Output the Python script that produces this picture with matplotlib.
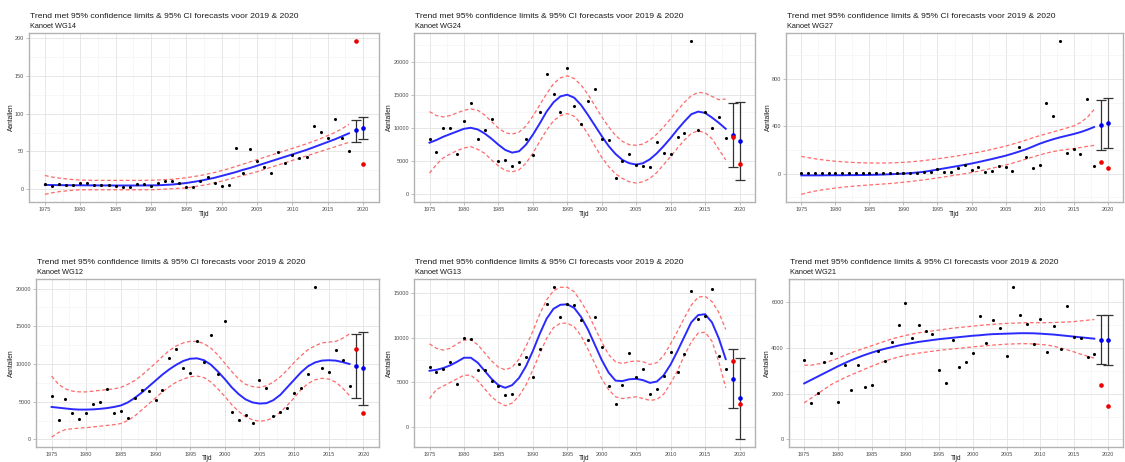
import matplotlib
matplotlib.use("Agg")
import matplotlib.pyplot as plt
import numpy as np

plt.rcParams['font.family'] = ['Liberation Sans', 'DejaVu Sans']

years = list(range(1975, 2019))
fc_years = [2019, 2020]
x_ticks = [1975, 1980, 1985, 1990, 1995, 2000, 2005, 2010, 2015, 2020]
title_text = "Trend met 95% confidence limits & 95% CI forecasts voor 2019 & 2020"

# ---------------- WG14 ----------------
wg14_obs = [6.3, 4.5, 6.7, 6, 5, 8, 8, 6, 6, 5, 3.5, 3, 3, 6.7, 6.7, 4.5, 7.6, 10.7, 10.7, 8,
            2.2, 2.7, 10.7, 16, 8, 3.6, 5.4, 54, 21, 53, 37, 29, 21, 49, 34, 45.6, 41, 43, 84, 76,
            67.6, 93.5, 68, 50]
wg14_fit = [5.5, 5.3, 5.2, 5.1, 5, 5, 4.9, 4.9, 4.8, 4.8, 4.7, 4.7, 4.7, 4.7, 4.8, 4.9, 5, 5.5, 6, 7,
            8, 9.5, 11, 13, 15, 17.5, 20, 22.5, 25.5, 28, 31, 34, 37, 40, 43, 46, 49, 52, 55.5, 59,
            62.5, 66, 70, 74]
wg14_hi = [18, 16, 14.5, 13.5, 12.5, 12, 11.7, 11.5, 11.5, 11.5, 11.5, 11.5, 11.5, 11.5, 11.5, 11.7, 12, 12.5, 13, 14,
           15, 16.5, 18, 20, 22, 24.5, 27, 30, 33, 36, 39, 42, 45, 48, 51, 54, 57, 60, 63.5, 67,
           71, 75, 80, 86]
wg14_lo = [-7, -5, -3.5, -2.5, -1.5, -1, -1, -1, -1, -1, -1, -1, -1, -1, -1, -1, -0.5, 0, 0.5, 1,
           1.5, 3, 4.5, 6, 8.5, 10.5, 13, 15.5, 18, 20.5, 23, 26, 29, 32, 35, 38, 41, 44, 47, 50,
           53, 56, 59, 62]
wg14_fc = [78, 81]
wg14_fc_lo = [62.6, 65.8]
wg14_fc_hi = [91.7, 95.7]
wg14_actual = [197, 33]

# ---------------- WG24 ----------------
wg24_obs = [8418, 6378, 9949, 9949, 6071, 11122, 13775, 8367, 9745, 11429, 5102, 5153, 4337, 4847, 8367,
            5969, 12398, 18163, 15204, 12500, 19082, 13367, 10561, 14082, 15918, 8418, 8163, 2398, 5102,
            6071, 4388, 4286, 4133, 7857, 6224, 6071, 8673, 9286, 23214, 9643, 12500, 10051, 11633, 8571]
wg24_fit = [7800, 8200, 8700, 9100, 9500, 9900, 10050, 9800, 9200, 8400, 7500, 6700, 6300, 6500, 7500,
            9000, 10700, 12500, 13900, 14800, 15050, 14600, 13500, 12000, 10400, 8800, 7300, 6100, 5200,
            4700, 4500, 4700, 5300, 6200, 7300, 8500, 9800, 11000, 12100, 12500, 12300, 11600, 10800, 9900]
wg24_hi = [12500, 11900, 11700, 11900, 12300, 12700, 12900, 12700, 12000, 11000, 10000, 9300, 9100, 9400, 10300,
           11800, 13500, 15200, 16700, 17600, 17900, 17500, 16500, 15100, 13400, 11700, 10200, 8900, 8000,
           7500, 7400, 7600, 8200, 9100, 10200, 11400, 12700, 13900, 14900, 15400, 15300, 14800, 14300, 14400]
wg24_lo = [3200, 4500, 5500, 6100, 6600, 7000, 7200, 6800, 6200, 5200, 4300, 3600, 3400, 3700, 4700,
           6200, 8000, 9700, 11100, 11900, 12200, 11800, 10700, 9100, 7300, 5600, 4200, 3100, 2400,
           1900, 1700, 1900, 2400, 3300, 4500, 5700, 7000, 8200, 9200, 9600, 9300, 8400, 6800, 5200]
wg24_fc = [9031, 8061]
wg24_fc_lo = [4184, 2092]
wg24_fc_hi = [13724, 13980]
wg24_actual = [8622, 4592]

# ---------------- WG27 ----------------
wg27_obs = [2, 1, 1, 2, 1, 2, 1, 1, 2, 1, 1, 1, 2, 3, 2, 1, 1, 4, 14, 14,
            40, 11, 11, 51, 71, 28, 57, 17, 26, 63, 57, 23, 222, 137, 46, 71, 598, 484, 1122, 174,
            205, 165, 632, 65]
wg27_fit = [-15, -15, -15, -15, -14, -14, -14, -13, -13, -12, -11, -10, -8, -6, -3, 0, 4, 9, 15, 24,
            34, 44, 54, 64, 74, 85, 97, 110, 123, 137, 151, 168, 186, 205, 228, 252, 272, 290, 306, 320,
            334, 350, 370, 393]
wg27_hi = [145, 135, 125, 117, 110, 104, 100, 96, 93, 91, 90, 89, 89, 90, 92, 95, 99, 104, 110, 117,
           125, 133, 141, 150, 160, 170, 180, 192, 205, 218, 232, 248, 265, 283, 302, 320, 336, 352, 368, 385,
           402, 430, 475, 540]
wg27_lo = [-175, -160, -148, -138, -130, -122, -115, -110, -105, -100, -96, -92, -88, -84, -79, -73, -67, -60, -53, -45,
           -37, -28, -19, -10, -1, 9, 20, 32, 45, 58, 72, 88, 105, 122, 140, 157, 173, 186, 196, 204,
           211, 220, 230, 238]
wg27_fc = [407, 424]
wg27_fc_lo = [199, 214]
wg27_fc_hi = [618, 638]
wg27_actual = [102, 46]

# ---------------- WG12 ----------------
wg12_obs = [5689, 2533, 5422, 3467, 2667, 3555, 4711, 4933, 6711, 3555, 3778, 2889, 5555, 6489, 6400,
            5200, 6489, 10800, 12000, 9466, 8800, 13066, 10222, 13911, 8711, 15689, 3600, 2578, 3200,
            2133, 7822, 6844, 3155, 3689, 4222, 6133, 6800, 8622, 20266, 9466, 8889, 11822, 10578, 7111]
wg12_fit = [4300, 4200, 4100, 4000, 3950, 3950, 3980, 4050, 4150, 4300, 4500, 4900, 5500, 6200, 7000,
            7800, 8600, 9300, 9900, 10400, 10700, 10750, 10500, 9900, 9000, 8000, 6900, 6000, 5300,
            4900, 4750, 4800, 5200, 5900, 6900, 7900, 8900, 9700, 10200, 10450, 10500, 10450, 10250, 10000]
wg12_hi = [8400, 7300, 6700, 6400, 6300, 6300, 6400, 6500, 6600, 6700, 6900, 7300, 7800, 8500, 9300,
           10100, 11000, 11800, 12400, 12800, 13000, 13000, 12700, 12100, 11200, 10100, 9000, 8000, 7300,
           7000, 6900, 7100, 7600, 8300, 9200, 10200, 11100, 11900, 12400, 12800, 12900, 13000, 13400, 14000]
wg12_lo = [300, 900, 1300, 1400, 1500, 1550, 1650, 1750, 1850, 1950, 2100, 2500, 3100, 3900, 4700,
           5500, 6300, 7000, 7600, 8000, 8300, 8400, 8200, 7600, 6700, 5700, 4600, 3700, 3000,
           2600, 2400, 2500, 2900, 3600, 4500, 5500, 6600, 7400, 7900, 8100, 8000, 7600, 6800, 5800]
wg12_fc = [9733, 9422]
wg12_fc_lo = [5555, 4622]
wg12_fc_hi = [14000, 14311]
wg12_actual = [12000, 3467]

# ---------------- WG13 ----------------
wg13_obs = [6753, 6119, 6529, 7275, 4850, 9925, 9850, 6417, 6343, 5149, 4552, 3545, 3694, 7014, 7798,
            5634, 8768, 13730, 15670, 12312, 13767, 13655, 11977, 9738, 12275, 8917, 4626, 2574, 4738,
            8245, 5559, 6529, 3694, 4253, 5746, 8395, 6119, 8171, 15185, 12051, 12424, 15446, 7947, 6455]
wg13_fit = [6300, 6400, 6600, 6900, 7300, 7750, 7750, 7200, 6300, 5400, 4700, 4400, 4700, 5500, 6800,
            8500, 10400, 12100, 13200, 13650, 13700, 13300, 12300, 10900, 9200, 7500, 6100, 5200, 5150,
            5350, 5400, 5250, 4950, 5100, 5800, 7000, 8500, 10100, 11700, 12500, 12600, 11700, 9900, 7600]
wg13_hi = [9300, 8800, 8600, 8800, 9300, 9700, 9750, 9200, 8300, 7400, 6700, 6400, 6700, 7600, 9000,
           10700, 12600, 14200, 15200, 15600, 15600, 15100, 14000, 12700, 11100, 9500, 8100, 7300, 7100,
           7300, 7400, 7300, 7000, 7200, 8000, 9300, 10700, 12200, 13600, 14500, 14600, 14000, 12800, 10900]
wg13_lo = [3200, 4200, 4600, 5000, 5400, 5800, 5800, 5200, 4300, 3400, 2800, 2400, 2700, 3500, 4700,
           6400, 8200, 9900, 11100, 11600, 11600, 11200, 10200, 8700, 7100, 5400, 4200, 3400, 3200,
           3300, 3400, 3200, 3000, 3100, 3700, 4900, 6300, 8000, 9500, 10500, 10600, 9600, 7300, 4400]
wg13_fc = [5410, 3209]
wg13_fc_lo = [2127, -1343]
wg13_fc_hi = [8731, 7760]
wg13_actual = [7387, 2612]

# ---------------- WG21 ----------------
wg21_obs = [3492, 1584, 2010, 3403, 3785, 1658, 3257, 2171, 3242, 2303, 2391, 3858, 3447, 4269, 4988,
            5985, 4460, 4988, 4738, 4636, 3051, 2464, 4357, 3154, 3374, 3770, 5413, 4225, 5208,
            4900, 3668, 6690, 5457, 5046, 4181, 5281, 3814, 4944, 3976, 5824, 4489, 4430, 3623, 3726]
wg21_fit = [2450, 2600, 2750, 2900, 3050, 3200, 3340, 3470, 3590, 3700, 3800, 3890, 3970, 4040, 4110,
            4170, 4220, 4270, 4310, 4350, 4390, 4420, 4450, 4480, 4510, 4540, 4560, 4590, 4610,
            4620, 4630, 4640, 4650, 4650, 4645, 4630, 4610, 4590, 4560, 4530, 4500, 4470, 4440, 4410]
wg21_hi = [3250, 3250, 3300, 3350, 3450, 3550, 3680, 3800, 3900, 4000, 4100, 4200, 4300, 4400, 4480,
           4550, 4610, 4670, 4710, 4750, 4790, 4830, 4870, 4900, 4930, 4960, 4990, 5020, 5040,
           5060, 5080, 5090, 5100, 5110, 5110, 5110, 5110, 5120, 5130, 5140, 5160, 5190, 5220, 5250]
wg21_lo = [1600, 1800, 2000, 2200, 2400, 2550, 2700, 2830, 2950, 3080, 3200, 3320, 3430, 3530, 3610,
           3680, 3730, 3780, 3820, 3860, 3900, 3930, 3960, 3990, 4020, 4050, 4080, 4100, 4130,
           4150, 4170, 4180, 4190, 4190, 4180, 4160, 4130, 4080, 4000, 3920, 3830, 3730, 3640, 3560]
wg21_fc = [4370, 4350]
wg21_fc_lo = [3315, 3242]
wg21_fc_hi = [5457, 5457]
wg21_actual = [2362, 1467]

panels = [
    ("Kanoet WG14", wg14_obs, wg14_fit, wg14_lo, wg14_hi, wg14_fc, wg14_fc_lo, wg14_fc_hi, wg14_actual,
     [0, 50, 100, 150, 200]),
    ("Kanoet WG24", wg24_obs, wg24_fit, wg24_lo, wg24_hi, wg24_fc, wg24_fc_lo, wg24_fc_hi, wg24_actual,
     [0, 5000, 10000, 15000, 20000]),
    ("Kanoet WG27", wg27_obs, wg27_fit, wg27_lo, wg27_hi, wg27_fc, wg27_fc_lo, wg27_fc_hi, wg27_actual,
     [0, 400, 800]),
    ("Kanoet WG12", wg12_obs, wg12_fit, wg12_lo, wg12_hi, wg12_fc, wg12_fc_lo, wg12_fc_hi, wg12_actual,
     [0, 5000, 10000, 15000, 20000]),
    ("Kanoet WG13", wg13_obs, wg13_fit, wg13_lo, wg13_hi, wg13_fc, wg13_fc_lo, wg13_fc_hi, wg13_actual,
     [0, 5000, 10000, 15000]),
    ("Kanoet WG21", wg21_obs, wg21_fit, wg21_lo, wg21_hi, wg21_fc, wg21_fc_lo, wg21_fc_hi, wg21_actual,
     [0, 2000, 4000, 6000]),
]

W, H = 1125, 462
fig = plt.figure(figsize=(W / 100, H / 100), dpi=100)
fig.patch.set_facecolor("white")

# layout in pixels: left, right, top, bottom, ylabel-x
boxes = [
    (29, 379, 33, 202, 11),
    (414, 755, 33, 202, 389),
    (786, 1123, 33, 202, 768),
    (36, 379, 279, 447, 11),
    (414, 755, 279, 447, 389),
    (789, 1123, 279, 447, 767),
]

border_col = "#b3b3b3"
for (sub, obs, fit, lo, hi, fc, fclo, fchi, act, yt), (l, r, t, b, ylx) in zip(panels, boxes):
    ax = fig.add_axes([l / W, 1 - b / H, (r - l) / W, (b - t) / H])
    ax.set_facecolor("white")
    allv = list(obs) + list(lo) + list(hi) + list(fclo) + list(fchi) + list(act) + [0]
    ymin, ymax = min(allv), max(allv)
    pad = 0.05 * (ymax - ymin)
    ax.set_xticks(x_ticks)
    ax.set_xticks([v + 2.5 for v in x_ticks[:-1]] + [1972.5, 2022.5], minor=True)
    ax.set_yticks(yt)
    step = yt[1] - yt[0]
    ax.set_yticks([v + step / 2 for v in [yt[0] - step] + yt], minor=True)
    ax.set_ylim(ymin - pad, ymax + pad)
    ax.set_xlim(1975 - 2.25, 2020 + 2.25)
    ax.grid(True, which="major", color="#e3e3e3", linewidth=0.6, zorder=0)
    ax.grid(True, which="minor", color="#f1f1f1", linewidth=0.4, zorder=0)
    ax.set_axisbelow(True)
    for s in ax.spines.values():
        s.set_color(border_col)
        s.set_linewidth(1.0)
    ax.tick_params(which="major", length=2.2, width=0.6, color=border_col,
                   labelsize=4.0, labelcolor="#4d4d4d", pad=1.5)
    ax.tick_params(which="minor", length=0)

    ax.plot(years, hi, color="#ff6a6a", lw=0.9, ls=(0, (3, 2)), zorder=2)
    ax.plot(years, lo, color="#ff6a6a", lw=0.9, ls=(0, (3, 2)), zorder=2)
    ax.plot(years, fit, color="#2a2aff", lw=1.4, zorder=3)
    ax.scatter(years, obs, s=5, color="black", zorder=4, linewidths=0)
    ax.errorbar(fc_years, fc, yerr=[np.array(fc) - np.array(fclo), np.array(fchi) - np.array(fc)],
                fmt="none", ecolor="#333333", elinewidth=0.9, capsize=3.5, capthick=0.9, zorder=4)
    ax.scatter(fc_years, fc, s=11, color="#0000ee", zorder=5, linewidths=0)
    ax.scatter(fc_years, act, s=11, color="#ee0000", zorder=5, linewidths=0)

    fig.text((l + 1) / W, 1 - (t - 17) / H, title_text, fontsize=6.1, color="#1a1a1a",
             ha="left", va="center")
    fig.text((l + 1) / W, 1 - (t - 6) / H, sub, fontsize=5.3, color="#1a1a1a",
             ha="left", va="center")
    fig.text(ylx / W, 1 - ((t + b) / 2) / H, "Aantallen", fontsize=4.8, color="#1a1a1a",
             rotation=90, ha="center", va="center")
    fig.text(((l + r) / 2) / W, 1 - (b + 12) / H, "Tijd", fontsize=4.8, color="#1a1a1a",
             ha="center", va="center")

fig.savefig("out.png", dpi=100, facecolor="white")
